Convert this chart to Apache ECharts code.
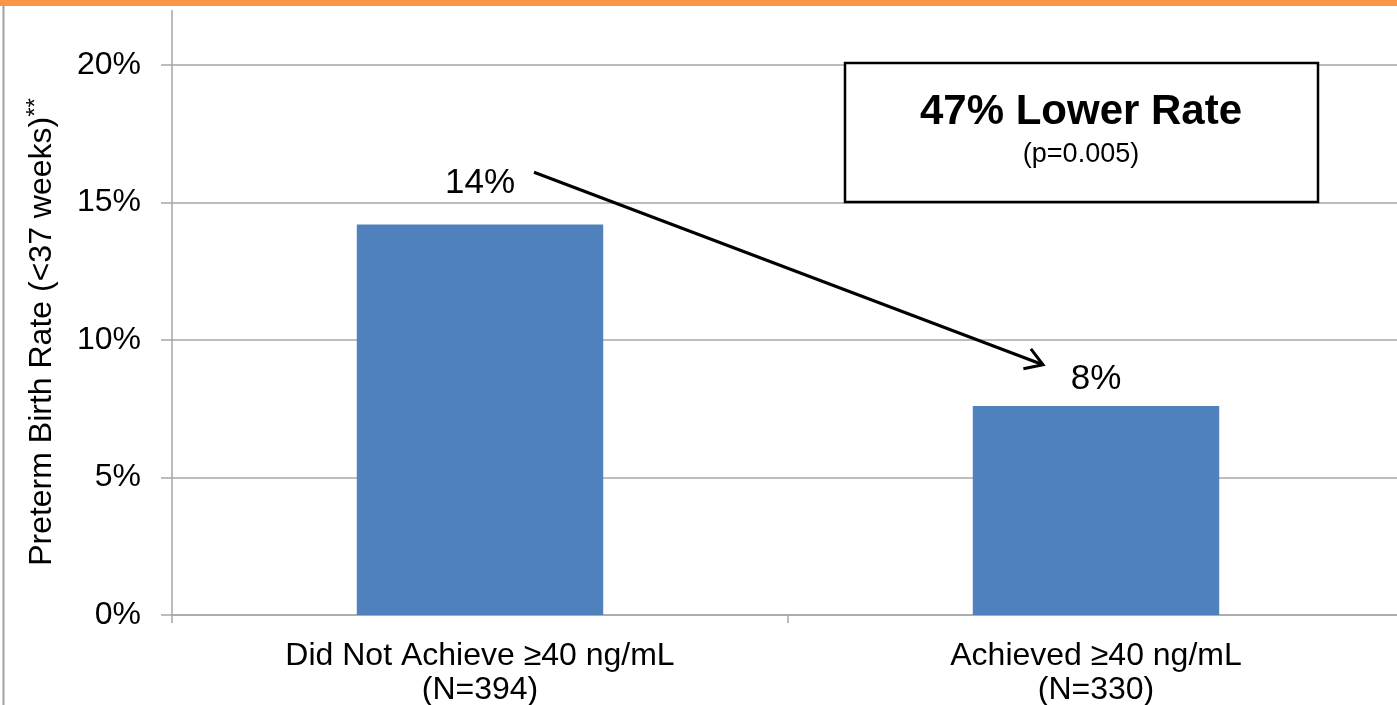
<!DOCTYPE html>
<html>
<head>
<meta charset="utf-8">
<script src="https://cdn.jsdelivr.net/npm/echarts@6/dist/echarts.min.js"></script>
<style>
  html, body { margin: 0; padding: 0; background: #fff; }
  #chart { width: 1397px; height: 705px; }
</style>
</head>
<body>
<div id="chart"></div>
<script>
// Preterm birth rate by vitamin D target attainment
const categories = ['Did Not Achieve \u226540 ng/mL\n(N=394)', 'Achieved \u226540 ng/mL\n(N=330)'];
const pretermRate = [14.2, 7.6];
const yTicks = [0, 5, 10, 15, 20];
const calloutTitle = '47% Lower Rate';
const calloutSub = '(p=0.005)';

const FONT = '"Liberation Sans", Arial, sans-serif';
const GRAY = '#a6a6a6';

const chart = echarts.init(document.getElementById('chart'), null, { renderer: 'canvas' });

chart.setOption({
  backgroundColor: '#ffffff',
  animation: false,
  grid: { left: 172, right: -7, top: 65, bottom: 90, containLabel: false, outerBoundsMode: 'none' },
  xAxis: {
    type: 'category',
    data: categories,
    axisLine: { lineStyle: { color: GRAY, width: 1.5 } },
    axisTick: { show: true, alignWithLabel: false, length: 8, lineStyle: { color: GRAY, width: 1.5 } },
    axisLabel: { color: '#000', fontFamily: FONT, fontSize: 32, lineHeight: 34, margin: 24 }
  },
  yAxis: {
    type: 'value',
    min: yTicks[0],
    max: yTicks[yTicks.length - 1],
    interval: 5,
    name: '{a|Preterm Birth Rate (<37 weeks)}{b|**}',
    nameLocation: 'middle',
    nameRotate: 90,
    nameGap: 112,
    nameTextStyle: {
      color: '#000',
      padding: [0, 0, 0, 16],
      rich: {
        a: { fontFamily: FONT, fontSize: 32, color: '#000' },
        b: { fontFamily: FONT, fontSize: 24, color: '#000', padding: [0, 0, 12, 0] }
      }
    },
    axisLine: { show: true, lineStyle: { color: GRAY, width: 1.5 } },
    axisTick: { show: true, length: 11, lineStyle: { color: GRAY, width: 1.5 } },
    splitLine: { lineStyle: { color: GRAY, width: 1.5 } },
    axisLabel: {
      color: '#000', fontFamily: FONT, fontSize: 32, margin: 31,
      formatter: v => v + '%'
    }
  },
  series: [{
    type: 'bar',
    barWidth: '40%',
    itemStyle: { color: '#4f81bd' },
    data: pretermRate.map((v, i) => ({
      value: v,
      label: { distance: i === 0 ? 24 : 9 }
    })),
    label: {
      show: true,
      position: 'top',
      color: '#000',
      fontFamily: FONT,
      fontSize: 35,
      formatter: p => Math.round(p.value) + '%'
    }
  }]
});

// Frame, callout box and arrow between the two groups
function drawAnnotations() {
  const top0 = chart.convertToPixel({ seriesIndex: 0 }, [0, 16.1]);
  const top1 = chart.convertToPixel({ seriesIndex: 0 }, [1, 9.1]);
  const axisTop = chart.convertToPixel({ seriesIndex: 0 }, [0, yTicks[yTicks.length - 1]]);
  const x0 = top0[0] + 54, y0 = top0[1];
  const x1 = top1[0] - 53, y1 = top1[1];
  const dx = x1 - x0, dy = y1 - y0;
  const len = Math.hypot(dx, dy);
  const ux = dx / len, uy = dy / len;
  const head = 20, ang = 32 * Math.PI / 180;
  const rot = (a) => [ux * Math.cos(a) - uy * Math.sin(a), ux * Math.sin(a) + uy * Math.cos(a)];
  const r1 = rot(ang), r2 = rot(-ang);

  chart.setOption({
    graphic: [
      { type: 'rect', shape: { x: 0, y: 0, width: 1397, height: 6 }, style: { fill: '#f79646' }, z: 100 },
      { type: 'line', shape: { x1: 3.5, y1: 6, x2: 3.5, y2: 705 }, style: { stroke: '#a0a0a0', lineWidth: 2 }, z: 100 },
      { type: 'line', shape: { x1: 172, y1: 10, x2: 172, y2: axisTop[1] }, style: { stroke: GRAY, lineWidth: 1.5 }, z: 5 },
      {
        type: 'rect', shape: { x: 845, y: 63, width: 473, height: 139 },
        style: { fill: '#fff', stroke: '#000', lineWidth: 2.5 }, z: 50
      },
      {
        type: 'text', x: 1081, y: 112, z: 51,
        style: { text: calloutTitle, fontFamily: FONT, fontWeight: 'bold', fontSize: 42, fill: '#000', align: 'center', verticalAlign: 'middle' }
      },
      {
        type: 'text', x: 1081, y: 155, z: 51,
        style: { text: calloutSub, fontFamily: FONT, fontSize: 27, fill: '#000', align: 'center', verticalAlign: 'middle' }
      },
      {
        type: 'line', shape: { x1: x0, y1: y0, x2: x1, y2: y1 },
        style: { stroke: '#000', lineWidth: 3 }, z: 60
      },
      {
        type: 'polyline',
        shape: { points: [[x1 - r1[0] * head, y1 - r1[1] * head], [x1, y1], [x1 - r2[0] * head, y1 - r2[1] * head]] },
        style: { stroke: '#000', lineWidth: 3, fill: null, lineJoin: 'miter' }, z: 60
      }
    ]
  });
}
drawAnnotations();
</script>
</body>
</html>
